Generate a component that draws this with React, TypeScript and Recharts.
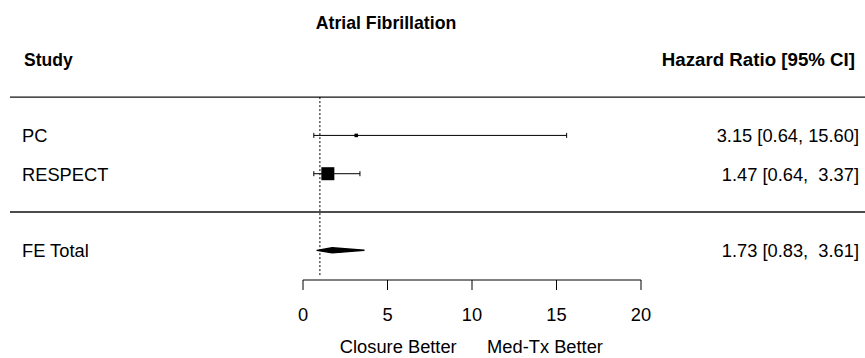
import React from 'react';
import {
  ComposedChart,
  XAxis,
  YAxis,
  Scatter,
  ErrorBar,
  ReferenceLine,
  Label,
} from 'recharts';

// ---- data ----
const studies = ['PC', 'RESPECT'];
const hazardRatios = [3.15, 1.47];
const ciLower = [0.64, 0.64];
const ciUpper = [15.6, 3.37];
const studyRows = [2, 1];

const summaryLabel = 'FE Total';
const summaryHR = 1.73;
const summaryLower = 0.83;
const summaryUpper = 3.61;
const summaryRow = -1;

const xTicks = [0, 5, 10, 15, 20];
const chartTitle = 'Atrial Fibrillation';
const leftHeader = 'Study';
const rightHeader = 'Hazard Ratio [95% CI]';
const headerRow = 4;
const favourLabels = ['Closure Better', 'Med-Tx Better'];
const nullValue = 1;

// ---- layout / style ----
const FONT = '"Liberation Sans", Arial, Helvetica, sans-serif';
const W = 865;
const H = 358;
const ROW_FONT = 18.3;
const MAX_BOX = 13;
const TOP_RULE_ROW = 3;
const SEPARATOR_ROW = 0;
const Y_DOMAIN: [number, number] = [-1.775, 5];
const REF_BOTTOM = -1.65;

// inverse-variance weights (log scale) set the square sizes
const logSE = (lo: number, hi: number) => (Math.log(hi) - Math.log(lo)) / (2 * 1.96);
const weights = studies.map((_, i) => 1 / logSE(ciLower[i], ciUpper[i]) ** 2);
const maxWeight = Math.max(...weights);

const fmt = (v: number) => v.toFixed(2);
const ciText = (est: number, lo: number, hi: number) =>
  `${fmt(est)} [${fmt(lo)}, ${fmt(hi).padStart(5, ' ')}]`;

const studyData = studies.map((name, i) => ({
  name,
  row: studyRows[i],
  hr: hazardRatios[i],
  err: [hazardRatios[i] - ciLower[i], ciUpper[i] - hazardRatios[i]],
  box: (MAX_BOX * weights[i]) / maxWeight,
}));

type RowLabel = { text: string; bold: boolean; size: number };

const leftLabels = new Map<number, RowLabel>([
  [headerRow, { text: leftHeader, bold: true, size: 17.5 }],
  ...studies.map((s, i) => [studyRows[i], { text: s, bold: false, size: ROW_FONT }] as [number, RowLabel]),
  [summaryRow, { text: summaryLabel, bold: false, size: ROW_FONT }],
]);

const rightLabels = new Map<number, RowLabel>([
  [headerRow, { text: rightHeader, bold: true, size: 18.7 }],
  ...studies.map(
    (_, i) =>
      [
        studyRows[i],
        { text: ciText(hazardRatios[i], ciLower[i], ciUpper[i]), bold: false, size: ROW_FONT },
      ] as [number, RowLabel]
  ),
  [summaryRow, { text: ciText(summaryHR, summaryLower, summaryUpper), bold: false, size: ROW_FONT }],
]);

const rowTicks = [headerRow, ...studyRows, summaryRow];

const LeftTick = (props: any) => {
  const { y, payload } = props;
  const item = leftLabels.get(payload.value);
  if (!item) return null;
  return (
    <text
      x={item.bold ? 24 : 22}
      y={y}
      dy={7}
      textAnchor="start"
      fontFamily={FONT}
      fontSize={item.size}
      fontWeight={item.bold ? 'bold' : 'normal'}
      fill="#000"
    >
      {item.text}
    </text>
  );
};

const RightTick = (props: any) => {
  const { y, payload } = props;
  const item = rightLabels.get(payload.value);
  if (!item) return null;
  return (
    <text
      x={item.bold ? 855 : 859}
      y={y}
      dy={7}
      textAnchor="end"
      fontFamily={FONT}
      fontSize={item.size}
      fontWeight={item.bold ? 'bold' : 'normal'}
      fill="#000"
      style={{ whiteSpace: 'pre' }}
    >
      {item.text}
    </text>
  );
};

const StudyBox = (props: any) => {
  const { cx, cy, payload } = props;
  const s = payload.box;
  return <rect x={cx - s / 2} y={cy - s / 2} width={s} height={s} fill="#000" />;
};

// horizontal rule spanning the whole figure width
const FullRule = (props: any) => (
  <line x1={10} x2={W} y1={props.y1} y2={props.y1} stroke="#111" strokeWidth={1.3} />
);

// pooled estimate: flat polygon from lower to upper bound, peak at the estimate
const SummaryDiamond = (props: any) => {
  const { x1, x2, y1 } = props;
  const px = x1 + ((summaryHR - summaryLower) / (summaryUpper - summaryLower)) * (x2 - x1);
  const h = 2.6;
  return (
    <polygon
      points={`${x1},${y1} ${px},${y1 - h} ${x2},${y1} ${px},${y1 + h}`}
      fill="#000"
      stroke="#000"
      strokeWidth={1.4}
      strokeLinejoin="round"
    />
  );
};

const FavourContent = (props: any) => {
  const { viewBox } = props;
  const { x, y } = viewBox;
  return (
    <g fontFamily={FONT} fontSize={ROW_FONT} fill="#000">
      <text x={x + 95.3} y={y + 73} textAnchor="middle">
        {favourLabels[0]}
      </text>
      <text x={x + 242} y={y + 73} textAnchor="middle">
        {favourLabels[1]}
      </text>
    </g>
  );
};

export default function App() {
  return (
    <div style={{ position: 'absolute', left: 0, top: 0, width: W, height: H, background: '#fff' }}>
      <ComposedChart width={W} height={H} margin={{ top: 20.5, right: 0, bottom: 0, left: 0 }}>
        <XAxis
          type="number"
          dataKey="hr"
          domain={[0, 20]}
          ticks={xTicks}
          allowDataOverflow
          height={78}
          tickSize={10}
          tickMargin={18}
          axisLine={{ stroke: '#000', strokeWidth: 1 }}
          tickLine={{ stroke: '#000', strokeWidth: 1 }}
          tick={{ fill: '#000', fontSize: ROW_FONT, fontFamily: FONT }}
        >
          <Label content={FavourContent} />
        </XAxis>
        <YAxis
          yAxisId="rows"
          type="number"
          dataKey="row"
          domain={Y_DOMAIN}
          ticks={rowTicks}
          allowDataOverflow
          width={303}
          axisLine={false}
          tickLine={false}
          tick={LeftTick}
          interval={0}
        />
        <YAxis
          yAxisId="values"
          orientation="right"
          type="number"
          dataKey="row"
          domain={Y_DOMAIN}
          ticks={rowTicks}
          allowDataOverflow
          width={224}
          axisLine={false}
          tickLine={false}
          tick={RightTick}
          interval={0}
        />

        <ReferenceLine yAxisId="rows" y={TOP_RULE_ROW} shape={FullRule} ifOverflow="visible" />
        <ReferenceLine yAxisId="rows" y={SEPARATOR_ROW} shape={FullRule} ifOverflow="visible" />
        <ReferenceLine
          yAxisId="rows"
          segment={[
            { x: nullValue, y: TOP_RULE_ROW },
            { x: nullValue, y: REF_BOTTOM },
          ]}
          stroke="#000"
          strokeWidth={1}
          strokeDasharray="2 2"
          ifOverflow="visible"
        />

        <Scatter
          yAxisId="rows"
          data={studyData}
          dataKey="row"
          shape={StudyBox}
          isAnimationActive={false}
        >
          <ErrorBar dataKey="err" direction="x" width={2.5} stroke="#000" strokeWidth={1} isAnimationActive={false} />
        </Scatter>

        <ReferenceLine
          yAxisId="rows"
          segment={[
            { x: summaryLower, y: summaryRow },
            { x: summaryUpper, y: summaryRow },
          ]}
          shape={SummaryDiamond}
          ifOverflow="visible"
        />

        <text
          x={386}
          y={29}
          textAnchor="middle"
          fontFamily={FONT}
          fontSize={17.7}
          fontWeight="bold"
          fill="#000"
        >
          {chartTitle}
        </text>
      </ComposedChart>
    </div>
  );
}
